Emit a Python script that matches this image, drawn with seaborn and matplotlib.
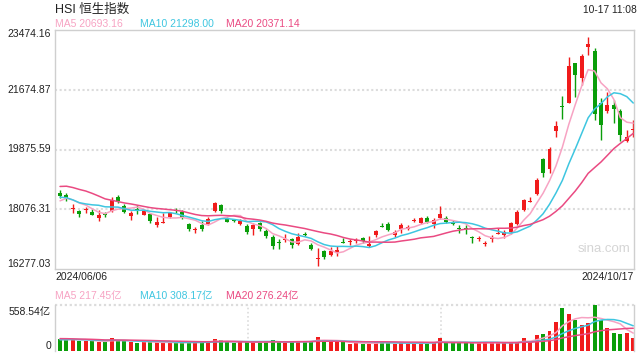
import numpy as np
import pandas as pd
import matplotlib
matplotlib.use("Agg")
import matplotlib.pyplot as plt
import seaborn as sns

# ---------------- data ----------------
dates_first = "2024/06/06"
dates_last = "2024/10/17"

prior_close = [18269, 18919, 19070, 19028, 19331, 19508, 19591, 19176, 19150,
               18823, 18564, 18782, 18776, 18432, 18185, 18035, 18358, 18399, 18380]

open_ = [18575, 18515, 18095, 18024, 18045, 17994, 17823, 17955, 18033, 18455,
         18175, 17874, 18065, 17914, 17934, 17594, 17655, 17854, 18030, 18005,
         17633, 17440, 17613, 17623, 18015, 18195, 17814, 17730, 17623, 17573,
         17472, 17653, 17413, 17232, 17060, 17150, 17172, 17031, 17330, 17010,
         16590, 16829, 16690, 16770, 17080, 17090, 17120, 17211, 16970, 17292,
         17540, 17633, 17292, 17492, 17492, 17720, 17653, 17804, 17633, 17804,
         17824, 17650, 17490, 17490, 17240, 17180, 17020, 17170, 17325, 17292,
         17392, 17633, 18055, 18295, 18536, 19581, 19298, 20442, 21160, 21285,
         22490, 22020, 22953, 22851, 21267, 21044, 21216, 21044, 20141, 20450]
high = [18656, 18557, 18235, 18055, 18155, 18094, 18055, 18005, 18435, 18510,
        18230, 18015, 18205, 18040, 17974, 17834, 17955, 18005, 18105, 18055,
        17670, 17533, 17734, 17834, 18295, 18235, 17840, 17775, 17775, 17620,
        17672, 17700, 17490, 17290, 17170, 17330, 17210, 17370, 17380, 17060,
        16900, 16850, 16930, 16970, 17201, 17172, 17211, 17252, 17272, 17452,
        17653, 17690, 17452, 17653, 17603, 17815, 17834, 17860, 17804, 18175,
        17860, 17740, 17600, 17610, 17282, 17270, 17110, 17302, 17503, 17452,
        17700, 18040, 18395, 18440, 19008, 19611, 19961, 20745, 21487, 22670,
        22490, 22752, 23253, 22923, 21418, 21617, 21367, 21086, 20463, 20764]
low = [18416, 18325, 17973, 17835, 17955, 17894, 17733, 17834, 18000, 18270,
       17960, 17760, 17934, 17895, 17653, 17553, 17650, 17814, 17955, 17774,
       17430, 17352, 17432, 17593, 17980, 17955, 17690, 17680, 17600, 17330,
       17302, 17430, 17200, 16890, 16890, 17100, 16920, 17000, 17260, 16840,
       16380, 16570, 16669, 16680, 17065, 17010, 17070, 17051, 16930, 17252,
       17530, 17420, 17250, 17352, 17452, 17700, 17623, 17660, 17503, 17790,
       17660, 17600, 17350, 17330, 17070, 17120, 16960, 17101, 17320, 17200,
       17330, 17590, 18015, 18290, 18506, 19060, 19160, 20262, 20785, 21285,
       21466, 21818, 22720, 20764, 20162, 20966, 20683, 20142, 20111, 20262]
close = [18476, 18417, 18115, 17934, 18065, 17914, 17904, 17894, 18355, 18335,
         17994, 17974, 18050, 18015, 17715, 17693, 17690, 17955, 18015, 17804,
         17492, 17460, 17472, 17774, 18255, 18015, 17704, 17714, 17734, 17392,
         17613, 17472, 17272, 16970, 17050, 17172, 16990, 17252, 17311, 16880,
         16610, 16630, 16820, 16850, 17070, 17105, 17135, 17110, 17030, 17413,
         17533, 17452, 17392, 17603, 17553, 17740, 17804, 17683, 17754, 17934,
         17683, 17633, 17472, 17472, 17222, 17195, 17035, 17185, 17335, 17392,
         17653, 18005, 18355, 18310, 18958, 19160, 19891, 20584, 21147, 22390,
         22119, 22691, 23052, 20936, 20614, 21216, 21086, 20313, 20262, 20470]

prior_volume = [150, 180, 170, 150, 165, 175, 190, 160, 150, 140,
                130, 120, 135, 140, 150, 145, 130, 135, 140]
volume = [150, 135, 140, 120, 125, 118, 112, 110, 160, 130,
          125, 105, 100, 110, 115, 105, 95, 100, 98, 105,
          115, 100, 105, 120, 150, 130, 110, 100, 105, 118,
          108, 104, 110, 130, 112, 100, 112, 120, 118, 125,
          170, 125, 112, 108, 104, 88, 95, 85, 100, 108,
          110, 100, 90, 95, 90, 95, 100, 98, 110, 160,
          105, 95, 98, 100, 100, 95, 110, 92, 100, 112,
          100, 110, 160, 110, 200, 206, 243, 356, 526, 449,
          380, 320, 340, 558.54, 376, 283, 222, 206, 220, 156]

price_ticks = [23474.16, 21674.87, 19875.59, 18076.31, 16277.03]
vol_max = 558.54

# ---------------- style ----------------
sns.set_theme(style="white")
plt.rcParams["font.family"] = ["Liberation Sans", "Noto Sans CJK SC", "DejaVu Sans"]

RED = "#f01b1b"
GREEN = "#0a9e0a"
C5 = "#f7a3c3"
C10 = "#3ec6e0"
C20 = "#ea4a82"
FRAME = "#cfcfcf"
GRID = "#dcdcdc"

n = len(close)
idx = np.arange(n)
all_close = pd.Series(prior_close + close, dtype=float)
all_vol = pd.Series(prior_volume + volume, dtype=float)
k = len(prior_close)
df = pd.DataFrame({
    "i": idx,
    "ma5": all_close.rolling(5).mean().iloc[k:].values,
    "ma10": all_close.rolling(10).mean().iloc[k:].values,
    "ma20": all_close.rolling(20).mean().iloc[k:].values,
    "vma5": all_vol.rolling(5).mean().iloc[k:].values,
    "vma10": all_vol.rolling(10).mean().iloc[k:].values,
    "vma20": all_vol.rolling(20).mean().iloc[k:].values,
})

W, H = 640, 360
fig = plt.figure(figsize=(W / 100, H / 100), dpi=100)
fig.patch.set_facecolor("white")

def rect(x0, y0, x1, y1):
    return [x0 / W, 1 - y1 / H, (x1 - x0) / W, (y1 - y0) / H]

ax1 = fig.add_axes(rect(55, 30, 634, 269))
ax2 = fig.add_axes(rect(55, 305, 634, 351))

XL = (-0.78, n - 1 + 0.12)

# ---------- price panel ----------
ax1.set_xlim(*XL)
ax1.set_ylim(price_ticks[-1], price_ticks[0])
for v in price_ticks[1:-1]:
    ax1.axhline(v, color=GRID, lw=1.5, ls=(0, (1, 1.2)), zorder=0)

cols = [RED if c >= o else GREEN for o, c in zip(open_, close)]
ax1.vlines(idx, low, high, colors=cols, lw=1.0, zorder=2)
bottoms = [min(o, c) for o, c in zip(open_, close)]
heights = [max(abs(c - o), 32) for o, c in zip(open_, close)]
ax1.bar(idx, heights, bottom=bottoms, width=0.62, color=cols, lw=0, zorder=3)

sns.lineplot(data=df, x="i", y="ma5", ax=ax1, color=C5, lw=1.1, zorder=4)
sns.lineplot(data=df, x="i", y="ma10", ax=ax1, color=C10, lw=1.1, zorder=4)
sns.lineplot(data=df, x="i", y="ma20", ax=ax1, color=C20, lw=1.1, zorder=4)

ax1.text(0.993, 0.085, "sina.com", transform=ax1.transAxes, ha="right",
         va="center", color="#d5d5d5", fontsize=9.5)

# ---------- volume panel ----------
ax2.set_xlim(*XL)
ax2.set_ylim(0, vol_max)
ax2.bar(idx, volume, width=0.62, color=cols, lw=0, zorder=2)
sns.lineplot(data=df, x="i", y="vma5", ax=ax2, color=C5, lw=1.1, zorder=4)
sns.lineplot(data=df, x="i", y="vma10", ax=ax2, color=C10, lw=1.1, zorder=4)
sns.lineplot(data=df, x="i", y="vma20", ax=ax2, color=C20, lw=1.1, zorder=4)
for fx in (1 / 3, 2 / 3):
    ax2.axvline(XL[0] + (XL[1] - XL[0]) * fx, color=GRID, lw=1.2,
                ls=(0, (1, 1.5)), zorder=0)
ax2.axhline(vol_max, color=GRID, lw=1.6, ls=(0, (1, 1.2)), zorder=1, clip_on=False)

for ax in (ax1, ax2):
    ax.set_xticks([])
    ax.set_yticks([])
    ax.set_xlabel("")
    ax.set_ylabel("")
    for s in ax.spines.values():
        s.set_color(FRAME)
        s.set_linewidth(1.0)
ax2.spines["top"].set_visible(False)
ax2.spines["bottom"].set_visible(False)

# ---------- texts ----------
def T(x, y, s, ha="left", color="#222222", size=7.5, **kw):
    fig.text(x / W, 1 - y / H, s, ha=ha, va="center", color=color,
             fontsize=size, **kw)

T(55, 10, "HSI 恒生指数", size=9)
T(637, 10, "10-17 11:08", ha="right", size=7.4)
T(55, 24, "MA5 20693.16", color=C5)
T(140, 24, "MA10 21298.00", color=C10)
T(226, 24, "MA20 20371.14", color=C20)

ylab = [34, 90, 149, 209, 264]
for v, y in zip(price_ticks, ylab):
    T(51, y, f"{v:.2f}", ha="right")

T(55, 277, dates_first)
T(634, 277, dates_last, ha="right")

T(55, 296, "MA5 217.45亿", color=C5)
T(140, 296, "MA10 308.17亿", color=C10)
T(226, 296, "MA20 276.24亿", color=C20)
T(51, 312, f"{vol_max:.2f}亿", ha="right")
T(51, 346, "0", ha="right")

fig.savefig("out.png", dpi=100, facecolor="white")
